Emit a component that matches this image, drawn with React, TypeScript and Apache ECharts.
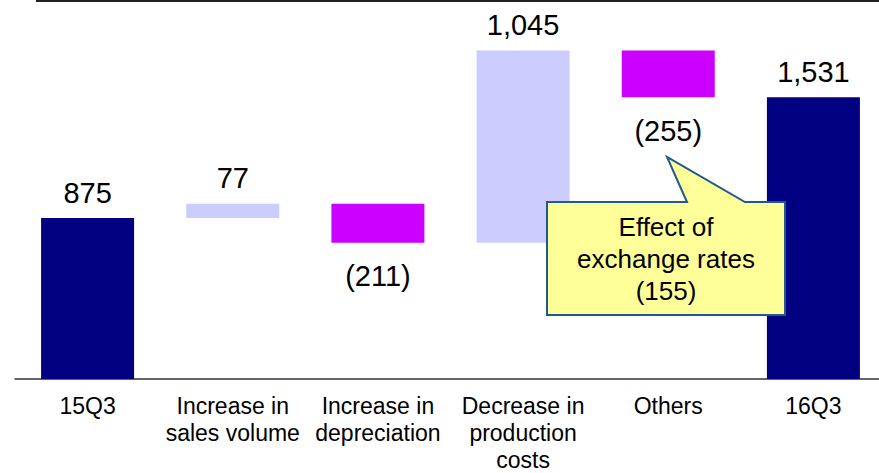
import React, { useEffect, useRef } from "react";
import * as echarts from "echarts";

// Operating income bridge, 15Q3 -> 16Q3
const categories = [
  "15Q3",
  "Increase in\nsales volume",
  "Increase in\ndepreciation",
  "Decrease in\nproduction\ncosts",
  "Others",
  "16Q3",
];
const startValue = 875;
const changes = [77, -211, 1045, -255];
const endValue = 1531;
const fxEffect = -155;
const fxNote = ["Effect of", "exchange rates"];

const FONT = "'Liberation Sans', Arial, Helvetica, sans-serif";
const NAVY = "#000080";
const LIGHT = "#CCCCFF";
const MAGENTA = "#CC00FF";

function fmt(v: number): string {
  const s = Math.abs(v).toLocaleString("en-US");
  return v < 0 ? `(${s})` : s;
}

export default function App() {
  const ref = useRef<HTMLDivElement>(null);

  useEffect(() => {
    if (!ref.current) return;
    const chart = echarts.init(ref.current, undefined, { renderer: "svg" });

    const n = categories.length;
    const base: (number | string)[] = new Array(n).fill("-");
    const totals: (number | string)[] = new Array(n).fill("-");
    const ups: (number | string)[] = new Array(n).fill("-");
    const downs: (number | string)[] = new Array(n).fill("-");

    totals[0] = startValue;
    base[0] = 0;
    let running = startValue;
    changes.forEach((c, i) => {
      const idx = i + 1;
      if (c >= 0) {
        base[idx] = running;
        ups[idx] = c;
      } else {
        base[idx] = running + c;
        downs[idx] = -c;
      }
      running += c;
    });
    totals[n - 1] = endValue;
    base[n - 1] = 0;

    const valueLabel = {
      show: true,
      position: "top" as const,
      distance: 11,
      fontFamily: FONT,
      fontSize: 29,
      color: "#000",
    };

    chart.setOption({
      animation: false,
      backgroundColor: "#fff",
      // the plot runs a little past the right edge of the visible frame
      grid: { left: 15, width: 871, top: 11, bottom: 89, containLabel: false },
      xAxis: {
        type: "category",
        data: categories,
        axisLine: { lineStyle: { color: "#333", width: 1.5 } },
        axisTick: { inside: true, length: 8, lineStyle: { color: "#333" } },
        axisLabel: {
          interval: 0,
          margin: 13,
          fontFamily: FONT,
          fontSize: 23,
          lineHeight: 27,
          color: "#000",
        },
      },
      yAxis: {
        type: "value",
        min: 0,
        max: 2000,
        show: false,
        splitLine: { show: false },
      },
      series: [
        {
          name: "base",
          type: "bar",
          stack: "w",
          data: base,
          barWidth: 93,
          itemStyle: { color: "transparent" },
          silent: true,
        },
        {
          name: "total",
          type: "bar",
          stack: "w",
          data: totals,
          barWidth: 93,
          itemStyle: { color: NAVY },
          label: { ...valueLabel, formatter: (p: any) => fmt(p.value) },
        },
        {
          name: "increase",
          type: "bar",
          stack: "w",
          data: ups,
          barWidth: 93,
          itemStyle: { color: LIGHT },
          label: { ...valueLabel, formatter: (p: any) => fmt(p.value) },
        },
        {
          name: "decrease",
          type: "bar",
          stack: "w",
          data: downs,
          barWidth: 93,
          itemStyle: { color: MAGENTA },
          label: {
            ...valueLabel,
            position: "bottom",
            distance: 19,
            formatter: (p: any) => fmt(-p.value),
          },
        },
      ],
      graphic: [
        {
          type: "line",
          shape: { x1: 36, y1: 1, x2: 879, y2: 1 },
          style: { stroke: "#222", lineWidth: 2 },
        },
        {
          type: "polygon",
          z: 10,
          shape: {
            points: [
              [547, 202],
              [687, 202],
              [667, 157],
              [745, 202],
              [785, 202],
              [785, 315],
              [547, 315],
            ],
          },
          style: { fill: "#FFFF99", stroke: "#1F5A8A", lineWidth: 2 },
        },
        {
          type: "text",
          z: 11,
          x: 666,
          y: 211,
          style: {
            text: [...fxNote, fmt(fxEffect)].join("\n"),
            fontFamily: FONT,
            fontSize: 26,
            lineHeight: 32,
            fill: "#000",
            align: "center",
            verticalAlign: "top",
          },
        },
      ],
    });

    return () => chart.dispose();
  }, []);

  return (
    <div
      style={{
        position: "fixed",
        left: 0,
        top: 0,
        width: 879,
        height: 473,
        overflow: "hidden",
      }}
    >
      <div ref={ref} style={{ width: 890, height: 473 }} />
    </div>
  );
}
